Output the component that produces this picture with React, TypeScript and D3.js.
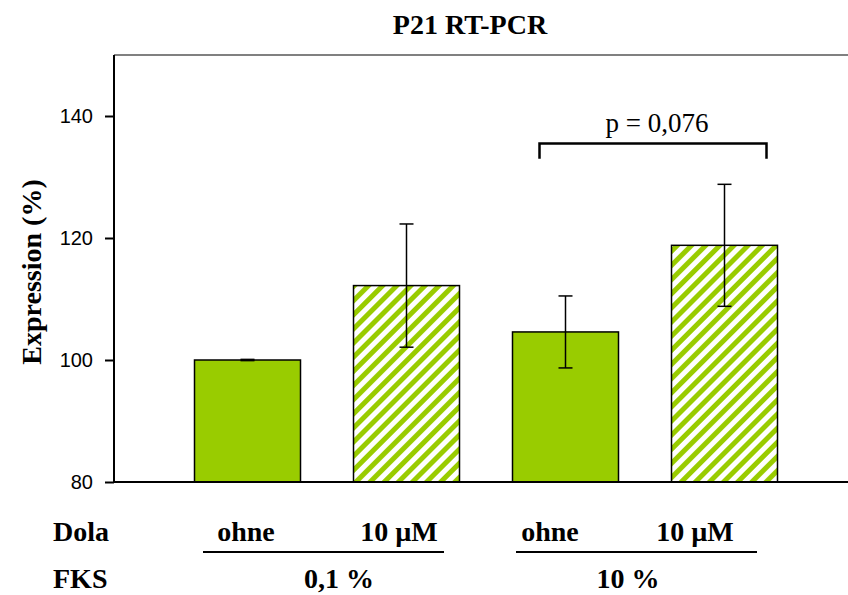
import { useEffect, useRef } from "react";
import * as d3 from "d3";

// chart values
const groups = ["ohne-0.1", "10uM-0.1", "ohne-10", "10uM-10"];
const doseLabels = ["ohne", "10 µM", "ohne", "10 µM"];
const serumLabels = ["0,1 %", "10 %"];
const means = [100, 112.2, 104.6, 118.8];
const errors = [0.1, 10.1, 5.9, 10.0];
const hatched = [false, true, false, true];
const yTicks = [80, 100, 120, 140];

const W = 848;
const H = 595;
const margin = { top: 55, right: 0, bottom: 113, left: 114 };
const green = "#99cc00";
const serif = "'Liberation Serif', 'Times New Roman', serif";
const sans = "'Liberation Sans', Arial, sans-serif";

export default function App() {
  const yAxisRef = useRef<SVGGElement>(null);

  const xScale = d3
    .scaleBand()
    .domain(groups)
    .range([168, 804])
    .paddingInner(1 / 3)
    .paddingOuter(1 / 6);
  const yScale = d3
    .scaleLinear()
    .domain([80, 150])
    .range([H - margin.bottom, margin.top]);

  useEffect(() => {
    const g = d3.select(yAxisRef.current);
    g.selectAll("*").remove();
    g.call(
      d3.axisLeft(yScale).tickValues(yTicks).tickSize(9).tickPadding(12).tickSizeOuter(0)
    );
    g.attr("font-size", 20).attr("font-family", sans);
    g.select(".domain").remove();
    g.selectAll(".tick line").attr("stroke", "#000").attr("stroke-width", 2);
    g.selectAll(".tick text")
      .attr("fill", "#000")
      .attr("font-size", 20)
      .attr("font-family", sans);
  }, []);

  const bw = xScale.bandwidth();
  const y0 = yScale(80);

  // significance bracket between the two 10 % bars
  const bx1 = (xScale(groups[2]) as number) + 27;
  const bx2 = (xScale(groups[3]) as number) + bw - 11;
  const bTop = yScale(135.5);
  const bEnd = yScale(133);

  const labelX = [246, 399, 550, 695];
  const underlines = [
    [203, 444],
    [516, 757],
  ];
  const serumX = [339, 628];

  return (
    <svg
      width={W}
      height={H}
      style={{ position: "absolute", left: 0, top: 0, background: "#fff" }}
    >
      <defs>
        <pattern
          id="hatch"
          patternUnits="userSpaceOnUse"
          width={10}
          height={10}
          patternTransform="rotate(45)"
        >
          <rect width={10} height={10} fill="#fff" />
          <rect width={5} height={10} fill={green} />
        </pattern>
      </defs>

      <text
        x={470}
        y={34}
        textAnchor="middle"
        fontFamily={serif}
        fontWeight="bold"
        fontSize={28}
      >
        P21 RT-PCR
      </text>

      {/* top frame line */}
      <line x1={margin.left} x2={W} y1={margin.top} y2={margin.top} stroke="#808080" strokeWidth={2} />

      {groups.map((g, i) => {
        const x = xScale(g) as number;
        const yTop = yScale(means[i]);
        return (
          <rect
            key={g}
            x={x}
            y={yTop}
            width={bw}
            height={y0 - yTop}
            fill={hatched[i] ? "url(#hatch)" : green}
            stroke="#000"
            strokeWidth={1.5}
          />
        );
      })}

      {groups.map((g, i) => {
        const cx = (xScale(g) as number) + bw / 2;
        const hi = yScale(means[i] + errors[i]);
        const lo = yScale(means[i] - errors[i]);
        return (
          <g key={g} stroke="#000" strokeWidth={1.5}>
            <line x1={cx} x2={cx} y1={hi} y2={lo} />
            <line x1={cx - 7} x2={cx + 7} y1={hi} y2={hi} />
            <line x1={cx - 7} x2={cx + 7} y1={lo} y2={lo} />
          </g>
        );
      })}

      {/* axes */}
      <g ref={yAxisRef} transform={`translate(${margin.left},0)`} />
      <line x1={margin.left} x2={margin.left} y1={margin.top} y2={y0 + 1} stroke="#000" strokeWidth={2} />
      <line x1={margin.left} x2={W} y1={y0} y2={y0} stroke="#000" strokeWidth={2} />

      {/* bracket */}
      <path
        d={`M${bx1},${bEnd}V${bTop}H${bx2}V${bEnd}`}
        fill="none"
        stroke="#000"
        strokeWidth={2.5}
      />
      <text x={(bx1 + bx2) / 2 + 4} y={132} textAnchor="middle" fontFamily={serif} fontSize={27}>
        p = 0,076
      </text>

      <text
        transform={`translate(41,272) rotate(-90)`}
        textAnchor="middle"
        fontFamily={serif}
        fontWeight="bold"
        fontSize={28}
      >
        Expression (%)
      </text>

      {/* category labels */}
      <g fontFamily={serif} fontWeight="bold" fontSize={28}>
        <text x={53} y={541}>Dola</text>
        <text x={53} y={588}>FKS</text>
        {doseLabels.map((l, i) => (
          <text key={i} x={labelX[i]} y={541} textAnchor="middle">
            {l}
          </text>
        ))}
        {serumLabels.map((l, i) => (
          <text key={i} x={serumX[i]} y={588} textAnchor="middle">
            {l}
          </text>
        ))}
      </g>
      {underlines.map(([a, b], i) => (
        <line key={i} x1={a} x2={b} y1={552} y2={552} stroke="#000" strokeWidth={2} />
      ))}
    </svg>
  );
}
